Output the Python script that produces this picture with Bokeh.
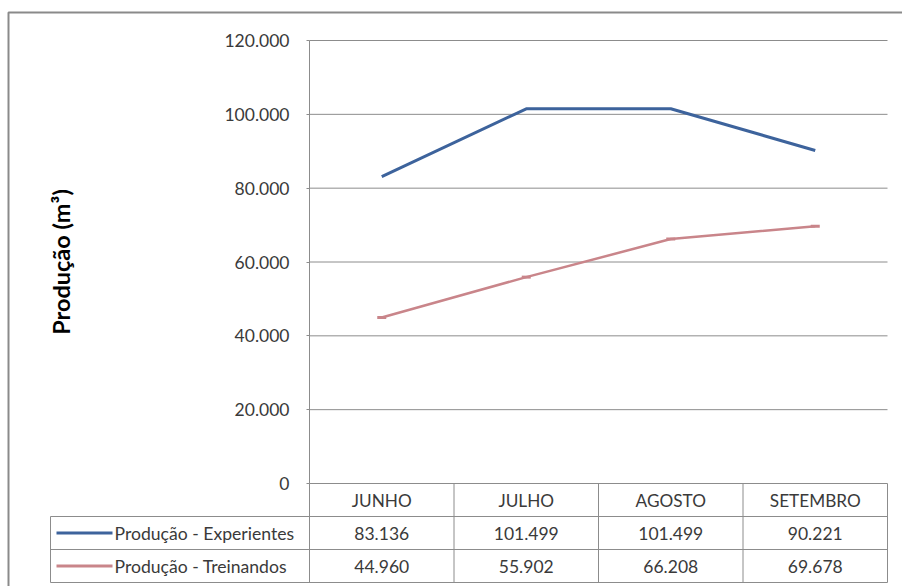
from bokeh.plotting import figure
from bokeh.models import Range1d, FixedTicker
from bokeh.core.properties import value
from bokeh.embed import file_html
from bokeh.resources import INLINE

# ---- data ----
months = ["JUNHO", "JULHO", "AGOSTO", "SETEMBRO"]
experientes = [83136, 101499, 101499, 90221]
treinandos = [44960, 55902, 66208, 69678]
series_names = ["Produção - Experientes", "Produção - Treinandos"]
y_ticks = [0, 20000, 40000, 60000, 80000, 100000, 120000]
y_tick_labels = ["0", "20.000", "40.000", "60.000", "80.000", "100.000", "120.000"]
y_title = "Produção (m³)"

def fmt(v):
    return f"{v:,}".replace(",", ".")

# ---- layout (pixels) ----
W, H = 902, 586
PL, PR, PT = 309, 887, 40          # plot area left, right, top (120.000 line)
ZERO_PX = 483                      # pixel row of y = 0
ROW = 33.0                         # data-table row height
n = len(months)
XU = (PR - PL) / n                 # pixels per category
YMAX = y_ticks[-1]
ppu = (ZERO_PX - PT) / YMAX        # pixels per unit of production

def px2x(px):
    return (px - PL) / XU

def px2y(py):
    return (ZERO_PX - py) / ppu

def px2t(py):
    return (py - ZERO_PX) / ROW

BLUE = "#3D639C"
RED = "#C9858A"
GRID = "#8C8C8C"
TXT = "#3A3A3A"
FONT = "Lato"

p = figure(width=W, height=H, output_backend="svg", toolbar_location=None,
           x_range=Range1d(px2x(0), px2x(W)),
           y_range=Range1d(px2y(H), px2y(0)),
           x_axis_location=None,
           min_border_left=0, min_border_right=0, min_border_top=0, min_border_bottom=0)
p.outline_line_color = None
p.xgrid.grid_line_color = None
p.ygrid.grid_line_color = None
p.extra_y_ranges = {"tbl": Range1d(px2t(H), px2t(0))}

TBL_BOTTOM = 3
# y axis pinned at the left edge of the plot area
ax = p.yaxis[0]
ax.fixed_location = 0
ax.bounds = (0, YMAX)
ax.ticker = FixedTicker(ticks=y_ticks)
ax.major_label_overrides = {t: l for t, l in zip(y_ticks, y_tick_labels)}
ax.axis_line_color = GRID
ax.major_tick_line_color = GRID
ax.major_tick_out = 3
ax.major_tick_in = 0
ax.minor_tick_line_color = None
ax.major_label_standoff = 17
ax.major_label_text_font = FONT
ax.major_label_text_font_size = "17.5px"
ax.major_label_text_color = TXT
ax.axis_label = y_title
ax.axis_label_text_font = FONT
ax.axis_label_text_font_style = "bold"
ax.axis_label_text_font_size = "23.5px"
ax.axis_label_text_color = "#000000"
ax.axis_label_standoff = 146

# horizontal gridlines across the plot area
p.segment(x0=[0] * len(y_ticks), y0=y_ticks, x1=[n] * len(y_ticks), y1=y_ticks,
          line_color=GRID, line_width=1)

# series
xs = [i + 0.5 for i in range(n)]
p.line(xs, experientes, line_color=BLUE, line_width=3)
p.line(xs, treinandos, line_color=RED, line_width=2.5)
p.scatter(xs, treinandos, marker="dash", size=9, line_color=RED, line_width=3)

# ---- data table ----
p.segment(x0=[0, 1, 2, 3, 4], y0=[0] * 5, x1=[0, 1, 2, 3, 4], y1=[TBL_BOTTOM] * 5,
          line_color=GRID, line_width=1, y_range_name="tbl")
LEG_L = px2x(50)
p.segment(x0=[LEG_L] * 3, y0=[1, 2, 3], x1=[n] * 3, y1=[1, 2, 3],
          line_color=GRID, line_width=1, y_range_name="tbl")
p.segment(x0=[LEG_L], y0=[1], x1=[LEG_L], y1=[3],
          line_color=GRID, line_width=1, y_range_name="tbl")

p.text(x=xs, y=[0.5] * n, text=months, text_align="center", text_baseline="middle",
       text_font=value(FONT), text_font_size="17.2px", text_color=TXT, y_range_name="tbl")
p.text(x=xs, y=[1.5] * n, text=[fmt(v) for v in experientes], text_align="center",
       text_baseline="middle", text_font=value(FONT), text_font_size="17.5px",
       text_color=TXT, y_range_name="tbl")
p.text(x=xs, y=[2.5] * n, text=[fmt(v) for v in treinandos], text_align="center",
       text_baseline="middle", text_font=value(FONT), text_font_size="17.5px",
       text_color=TXT, y_range_name="tbl")

# legend keys and names
p.segment(x0=[px2x(56)] * 2, y0=[1.5, 2.5], x1=[px2x(112)] * 2, y1=[1.5, 2.5],
          line_color=[BLUE, RED], line_width=3, y_range_name="tbl")
p.text(x=[px2x(114)] * 2, y=[1.5, 2.5], text=series_names, text_align="left",
       text_baseline="middle", text_font=value(FONT), text_font_size="17.6px",
       text_color=TXT, y_range_name="tbl")

# outer chart border
p.quad(left=[px2x(8)], right=[px2x(W + 4)], top=[px2y(12)], bottom=[px2y(H + 4)],
       fill_color=None, line_color="#8A8A8A", line_width=2)

open("out.html", "w").write(file_html(p, INLINE))
